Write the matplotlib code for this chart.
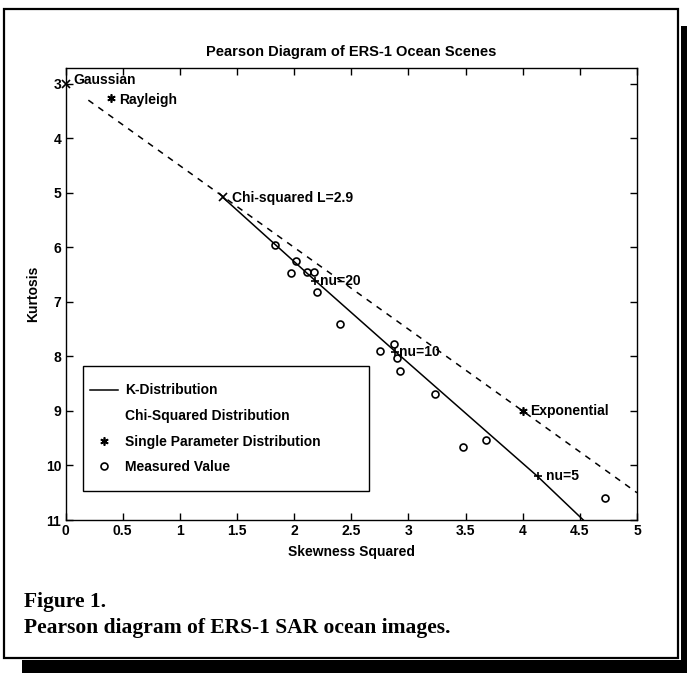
import matplotlib.pyplot as plt
from matplotlib.patches import Rectangle
from matplotlib.lines import Line2D

plt.rcParams['font.family'] = ['Liberation Sans', 'DejaVu Sans']
plt.rcParams['font.weight'] = 'bold'

# measured values (skewness squared, kurtosis)
meas_s2 = [1.83, 2.02, 1.97, 2.11, 2.17, 2.20, 2.40, 2.75, 2.87, 2.90, 2.93, 3.23, 3.48, 3.68, 4.72]
meas_kurt = [5.96, 6.25, 6.47, 6.45, 6.45, 6.81, 7.41, 7.90, 7.78, 8.03, 8.27, 8.68, 9.67, 9.53, 10.59]

# K-distribution curve
k_s2 = [1.375, 2.18, 2.88, 4.13, 4.53]
k_kurt = [5.08, 6.60, 7.90, 10.20, 11.0]

# chi-squared (gamma) line
chi_s2 = [0.2, 5.0]
chi_kurt = [3.3, 10.5]

# labelled points
pt_names = ['Gaussian', 'Rayleigh', 'Chi-squared L=2.9', 'Exponential']
pt_s2 = [0.0, 0.4, 1.375, 4.0]
pt_kurt = [3.0, 3.26, 5.08, 9.0]
pt_marker = ['x', (6, 2, 0), 'x', (6, 2, 0)]
pt_off = [(8, 4), (8, -2), (9, -1), (7, 0)]

nu_names = ['nu=20', 'nu=10', 'nu=5']
nu_s2 = [2.18, 2.88, 4.13]
nu_kurt = [6.62, 7.92, 10.2]
nu_off = [(5, 0), (4, 0), (8, 0)]

fig = plt.figure(figsize=(6.87, 6.73), dpi=100)

# page frame with drop shadow
fig.patches.append(Rectangle((681 / 687, 0), 6 / 687, 1 - 26 / 673, transform=fig.transFigure,
                             facecolor='black', edgecolor='none'))
fig.patches.append(Rectangle((22 / 687, 0), 665 / 687, 13 / 673, transform=fig.transFigure,
                             facecolor='black', edgecolor='none'))
fig.patches.append(Rectangle((4 / 687, 1 - 658 / 673), 674 / 687, 649 / 673, transform=fig.transFigure,
                             facecolor='none', edgecolor='black', linewidth=1.6))

ax = fig.add_axes([65.5 / 687, 1 - 520 / 673, 571.5 / 687, 452 / 673])

ax.plot(k_s2, k_kurt, '-', color='black', linewidth=1.1)
ax.plot(chi_s2, chi_kurt, '--', color='black', linewidth=1.1, dashes=(4, 4))
ax.plot(meas_s2, meas_kurt, 'o', mfc='none', mec='black', ms=5, mew=1.2)

for name, x, y, m, off in zip(pt_names, pt_s2, pt_kurt, pt_marker, pt_off):
    ax.plot(x, y, marker=m, color='black', ms=6, mew=1.2, clip_on=False)
    ax.annotate(name, (x, y), xytext=(off[0] * 0.72, off[1] * 0.72), textcoords='offset points',
                ha='left', va='center', fontsize=10)

for name, x, y, off in zip(nu_names, nu_s2, nu_kurt, nu_off):
    ax.plot(x, y, marker='+', color='black', ms=6, mew=1.2)
    ax.annotate(name, (x, y), xytext=(off[0] * 0.72, off[1] * 0.72), textcoords='offset points',
                ha='left', va='center', fontsize=10)

ax.set_xlim(0, 5)
ax.set_ylim(11, 2.71)
ax.set_xticks([0, 0.5, 1, 1.5, 2, 2.5, 3, 3.5, 4, 4.5, 5])
ax.set_xticklabels(['0', '0.5', '1', '1.5', '2', '2.5', '3', '3.5', '4', '4.5', '5'])
ax.set_yticks(range(3, 12))
ax.tick_params(direction='in', top=True, right=True, length=5, width=1, labelsize=10, pad=3)
for s in ax.spines.values():
    s.set_linewidth(1)

ax.set_title('Pearson Diagram of ERS-1 Ocean Scenes', fontsize=10.5, pad=9, weight='bold')
ax.set_xlabel('Skewness Squared', fontsize=10, labelpad=5, weight='bold')
ax.set_ylabel('Kurtosis', fontsize=10, labelpad=4, weight='bold')

# legend frame drawn separately so its size matches
ax.add_patch(Rectangle((0.0306, 0.064), 0.5, 0.277, transform=ax.transAxes,
                       facecolor='white', edgecolor='black', linewidth=1, zorder=4))
handles = [Line2D([], [], color='black', linewidth=1.1),
           Line2D([], [], color='none'),
           Line2D([], [], linestyle='none', marker=(6, 2, 0), color='black', ms=6, mew=1.2),
           Line2D([], [], linestyle='none', marker='o', mfc='none', mec='black', ms=5, mew=1.2)]
labels = ['K-Distribution', 'Chi-Squared Distribution', 'Single Parameter Distribution', 'Measured Value']
leg = ax.legend(handles, labels, loc='center left', bbox_to_anchor=(0.0429, 0.2018),
                fontsize=10, frameon=False, handlelength=2.0, handletextpad=0.5,
                labelspacing=0.83, borderpad=0, borderaxespad=0)
leg.set_zorder(5)

fig.text(24 / 687, 1 - 602 / 673, 'Figure 1.', family='Liberation Serif', weight='bold',
         fontsize=15.5, va='center', ha='left')
fig.text(24 / 687, 1 - 628 / 673, 'Pearson diagram of ERS-1 SAR ocean images.',
         family='Liberation Serif', weight='bold', fontsize=15.5, va='center', ha='left')

fig.savefig('out.png', dpi=100)
